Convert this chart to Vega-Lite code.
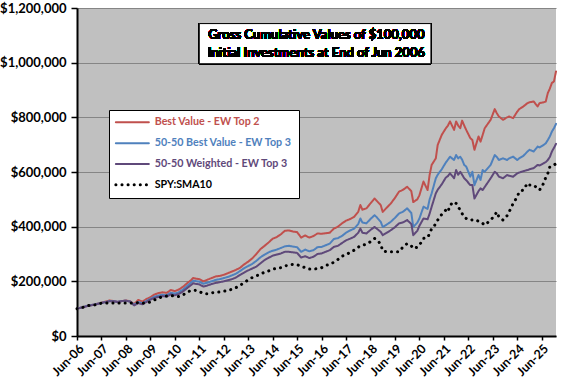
{
  "$schema": "https://vega.github.io/schema/vega-lite/v6.json",
  "width": 479,
  "height": 328,
  "autosize": {"type": "none"},
  "padding": {"left": 77, "top": 8, "right": 20, "bottom": 48},
  "background": "white",
  "config": {"view": {"fill": "#C0C0C0", "stroke": null}, "font": "Lato"},
  "data": {"values": [
    {"d":"2006-06-01","r":100000,"b":100000,"p":100000,"s":100000},
    {"d":"2006-09-01","r":106000,"b":106000,"p":105000,"s":105000},
    {"d":"2006-12-01","r":112000,"b":112000,"p":111000,"s":112000},
    {"d":"2007-03-01","r":116000,"b":116000,"p":115000,"s":114000},
    {"d":"2007-06-01","r":122000,"b":121000,"p":121000,"s":120000},
    {"d":"2007-08-01","r":126000,"b":124000,"p":124000,"s":120000},
    {"d":"2007-10-01","r":130000,"b":128000,"p":127000,"s":121000},
    {"d":"2007-12-01","r":128000,"b":127000,"p":127000,"s":121000},
    {"d":"2008-02-01","r":125000,"b":125000,"p":124000,"s":120000},
    {"d":"2008-04-01","r":128000,"b":128000,"p":128000,"s":121000},
    {"d":"2008-06-01","r":130000,"b":129000,"p":129000,"s":121000},
    {"d":"2008-08-01","r":127000,"b":126000,"p":126000,"s":121000},
    {"d":"2008-10-01","r":117000,"b":114000,"p":112000,"s":121000},
    {"d":"2008-12-01","r":132000,"b":124000,"p":120000,"s":122000},
    {"d":"2009-02-01","r":126000,"b":120000,"p":116000,"s":120000},
    {"d":"2009-04-01","r":135000,"b":128000,"p":124000,"s":121000},
    {"d":"2009-06-01","r":142000,"b":136000,"p":133000,"s":124000},
    {"d":"2009-08-01","r":152000,"b":144000,"p":139000,"s":132000},
    {"d":"2009-10-01","r":157000,"b":148000,"p":143000,"s":138000},
    {"d":"2009-12-01","r":160000,"b":151000,"p":146000,"s":145000},
    {"d":"2010-02-01","r":158000,"b":149000,"p":144000,"s":146000},
    {"d":"2010-04-01","r":168000,"b":158000,"p":152000,"s":148000},
    {"d":"2010-06-01","r":164000,"b":155000,"p":149000,"s":146000},
    {"d":"2010-08-01","r":170000,"b":160000,"p":154000,"s":144000},
    {"d":"2010-10-01","r":180000,"b":170000,"p":163000,"s":150000},
    {"d":"2010-12-01","r":193000,"b":183000,"p":175000,"s":160000},
    {"d":"2011-02-01","r":205000,"b":196000,"p":187000,"s":167000},
    {"d":"2011-03-01","r":212000,"b":202000,"p":193000,"s":167000},
    {"d":"2011-04-01","r":210000,"b":201000,"p":191000,"s":167000},
    {"d":"2011-06-01","r":208000,"b":199000,"p":189000,"s":163000},
    {"d":"2011-08-01","r":200000,"b":191000,"p":181000,"s":155000},
    {"d":"2011-10-01","r":206000,"b":195000,"p":185000,"s":155000},
    {"d":"2011-12-01","r":212000,"b":200000,"p":190000,"s":158000},
    {"d":"2012-02-01","r":218000,"b":205000,"p":194000,"s":160000},
    {"d":"2012-04-01","r":220000,"b":208000,"p":197000,"s":161000},
    {"d":"2012-06-01","r":224000,"b":212000,"p":200000,"s":164000},
    {"d":"2012-08-01","r":230000,"b":216000,"p":204000,"s":166000},
    {"d":"2012-10-01","r":236000,"b":222000,"p":208000,"s":171000},
    {"d":"2012-12-01","r":242000,"b":228000,"p":214000,"s":177000},
    {"d":"2013-02-01","r":250000,"b":238000,"p":224000,"s":185000},
    {"d":"2013-04-01","r":262000,"b":248000,"p":232000,"s":196000},
    {"d":"2013-06-01","r":272000,"b":256000,"p":240000,"s":205000},
    {"d":"2013-08-01","r":284000,"b":264000,"p":247000,"s":214000},
    {"d":"2013-10-01","r":300000,"b":275000,"p":254000,"s":220000},
    {"d":"2013-12-01","r":318000,"b":288000,"p":266000,"s":226000},
    {"d":"2014-02-01","r":330000,"b":298000,"p":278000,"s":234000},
    {"d":"2014-04-01","r":342000,"b":306000,"p":286000,"s":238000},
    {"d":"2014-06-01","r":356000,"b":312000,"p":294000,"s":244000},
    {"d":"2014-08-01","r":362000,"b":316000,"p":298000,"s":248000},
    {"d":"2014-10-01","r":372000,"b":322000,"p":302000,"s":250000},
    {"d":"2014-12-01","r":385000,"b":328000,"p":308000,"s":256000},
    {"d":"2015-02-01","r":386000,"b":330000,"p":308000,"s":260000},
    {"d":"2015-04-01","r":382000,"b":327000,"p":306000,"s":262000},
    {"d":"2015-06-01","r":380000,"b":325000,"p":304000,"s":261000},
    {"d":"2015-08-01","r":360000,"b":308000,"p":287000,"s":255000},
    {"d":"2015-10-01","r":368000,"b":316000,"p":292000,"s":250000},
    {"d":"2015-12-01","r":360000,"b":310000,"p":285000,"s":245000},
    {"d":"2016-02-01","r":366000,"b":314000,"p":290000,"s":244000},
    {"d":"2016-04-01","r":375000,"b":325000,"p":300000,"s":247000},
    {"d":"2016-06-01","r":374000,"b":326000,"p":302000,"s":250000},
    {"d":"2016-08-01","r":376000,"b":332000,"p":308000,"s":258000},
    {"d":"2016-10-01","r":378000,"b":338000,"p":314000,"s":262000},
    {"d":"2016-12-01","r":393000,"b":355000,"p":326000,"s":270000},
    {"d":"2017-02-01","r":400000,"b":358000,"p":330000,"s":280000},
    {"d":"2017-04-01","r":412000,"b":366000,"p":340000,"s":292000},
    {"d":"2017-06-01","r":422000,"b":378000,"p":350000,"s":298000},
    {"d":"2017-08-01","r":428000,"b":386000,"p":356000,"s":306000},
    {"d":"2017-10-01","r":436000,"b":393000,"p":363000,"s":314000},
    {"d":"2017-12-01","r":455000,"b":410000,"p":378000,"s":325000},
    {"d":"2018-01-01","r":479000,"b":430000,"p":393000,"s":330000},
    {"d":"2018-02-01","r":462000,"b":415000,"p":378000,"s":332000},
    {"d":"2018-04-01","r":467000,"b":412000,"p":375000,"s":336000},
    {"d":"2018-06-01","r":485000,"b":428000,"p":388000,"s":345000},
    {"d":"2018-08-01","r":503000,"b":442000,"p":399000,"s":357000},
    {"d":"2018-09-01","r":495000,"b":435000,"p":393000,"s":353000},
    {"d":"2018-11-01","r":479000,"b":418000,"p":381000,"s":336000},
    {"d":"2018-12-01","r":454000,"b":399000,"p":369000,"s":311000},
    {"d":"2019-02-01","r":470000,"b":408000,"p":378000,"s":308000},
    {"d":"2019-04-01","r":485000,"b":418000,"p":387000,"s":308000},
    {"d":"2019-06-01","r":505000,"b":432000,"p":398000,"s":308000},
    {"d":"2019-08-01","r":528000,"b":448000,"p":412000,"s":308000},
    {"d":"2019-10-01","r":535000,"b":455000,"p":416000,"s":326000},
    {"d":"2019-12-01","r":546000,"b":467000,"p":424000,"s":338000},
    {"d":"2020-02-01","r":530000,"b":450000,"p":410000,"s":330000},
    {"d":"2020-03-01","r":490000,"b":399000,"p":369000,"s":320000},
    {"d":"2020-05-01","r":500000,"b":415000,"p":385000,"s":325000},
    {"d":"2020-06-01","r":515000,"b":430000,"p":403000,"s":332000},
    {"d":"2020-08-01","r":565000,"b":473000,"p":430000,"s":357000},
    {"d":"2020-10-01","r":534000,"b":465000,"p":427000,"s":360000},
    {"d":"2020-11-01","r":590000,"b":500000,"p":448000,"s":375000},
    {"d":"2020-12-01","r":626000,"b":522000,"p":473000,"s":393000},
    {"d":"2021-02-01","r":650000,"b":577000,"p":522000,"s":410000},
    {"d":"2021-03-01","r":699000,"b":590000,"p":535000,"s":424000},
    {"d":"2021-05-01","r":736000,"b":610000,"p":555000,"s":445000},
    {"d":"2021-07-01","r":760000,"b":635000,"p":580000,"s":461000},
    {"d":"2021-08-01","r":770000,"b":645000,"p":585000,"s":454000},
    {"d":"2021-09-01","r":785000,"b":656000,"p":595000,"s":479000},
    {"d":"2021-11-01","r":754000,"b":644000,"p":577000,"s":491000},
    {"d":"2021-12-01","r":785000,"b":662000,"p":607000,"s":485000},
    {"d":"2022-01-01","r":770000,"b":650000,"p":590000,"s":473000},
    {"d":"2022-02-01","r":760000,"b":656000,"p":601000,"s":460000},
    {"d":"2022-03-01","r":788000,"b":645000,"p":590000,"s":448000},
    {"d":"2022-04-01","r":770000,"b":626000,"p":577000,"s":435000},
    {"d":"2022-05-01","r":754000,"b":620000,"p":570000,"s":430000},
    {"d":"2022-07-01","r":724000,"b":583000,"p":552000,"s":424000},
    {"d":"2022-08-01","r":717000,"b":601000,"p":552000,"s":425000},
    {"d":"2022-09-01","r":681000,"b":552000,"p":503000,"s":426000},
    {"d":"2022-11-01","r":730000,"b":589000,"p":530000,"s":420000},
    {"d":"2022-12-01","r":711000,"b":571000,"p":540000,"s":418000},
    {"d":"2023-01-01","r":735000,"b":607000,"p":534000,"s":412000},
    {"d":"2023-02-01","r":760000,"b":601000,"p":545000,"s":406000},
    {"d":"2023-05-01","r":791000,"b":626000,"p":577000,"s":424000},
    {"d":"2023-07-01","r":830000,"b":662000,"p":601000,"s":442000},
    {"d":"2023-08-01","r":815000,"b":655000,"p":595000,"s":454000},
    {"d":"2023-09-01","r":803000,"b":644000,"p":583000,"s":436000},
    {"d":"2023-11-01","r":791000,"b":650000,"p":577000,"s":424000},
    {"d":"2024-01-01","r":800000,"b":644000,"p":589000,"s":440000},
    {"d":"2024-02-01","r":803000,"b":650000,"p":586000,"s":454000},
    {"d":"2024-04-01","r":797000,"b":656000,"p":583000,"s":485000},
    {"d":"2024-06-01","r":821000,"b":644000,"p":595000,"s":509000},
    {"d":"2024-07-01","r":830000,"b":650000,"p":598000,"s":528000},
    {"d":"2024-09-01","r":840000,"b":659000,"p":603000,"s":534000},
    {"d":"2024-11-01","r":852000,"b":675000,"p":607000,"s":559000},
    {"d":"2024-12-01","r":855000,"b":681000,"p":610000,"s":552000},
    {"d":"2025-02-01","r":858000,"b":675000,"p":614000,"s":552000},
    {"d":"2025-04-01","r":840000,"b":693000,"p":626000,"s":540000},
    {"d":"2025-05-01","r":852000,"b":690000,"p":624000,"s":534000},
    {"d":"2025-07-01","r":855000,"b":699000,"p":632000,"s":559000},
    {"d":"2025-08-01","r":858000,"b":705000,"p":636000,"s":580000},
    {"d":"2025-09-01","r":889000,"b":717000,"p":644000,"s":595000},
    {"d":"2025-10-01","r":905000,"b":730000,"p":655000,"s":619000},
    {"d":"2025-11-01","r":926000,"b":748000,"p":675000,"s":622000},
    {"d":"2025-12-01","r":931000,"b":760000,"p":688000,"s":626000},
    {"d":"2026-01-01","r":968000,"b":776000,"p":703000,"s":630000}
  ]},
  "layer": [
    {
      "transform": [{"fold": ["r", "b", "p", "s"], "as": ["series", "value"]}],
      "mark": {"type": "line", "strokeCap": "round", "strokeJoin": "round"},
      "encoding": {
        "x": {
          "field": "d", "type": "temporal",
          "scale": {"type": "utc", "domain": [{"year": 2006, "month": 6, "date": 1, "utc": true}, {"year": 2026, "month": 1, "date": 1, "utc": true}]},
          "axis": {
            "title": null, "format": "%b-%y", "labelAngle": -45, "labelAlign": "right", "labelBaseline": "top",
            "labelFontWeight": "bold", "labelFontSize": 12.5, "tickCount": 40,
            "labelColor": "black", "domainColor": "black", "domainWidth": 2, "tickColor": "black", "tickSize": 4,
            "tickWidth": 1.5, "grid": false, "labelPadding": 2, "labelOverlap": false,
            "values": [
              {"year": 2006, "month": 6, "date": 1, "utc": true}, {"year": 2007, "month": 6, "date": 1, "utc": true},
              {"year": 2008, "month": 6, "date": 1, "utc": true}, {"year": 2009, "month": 6, "date": 1, "utc": true},
              {"year": 2010, "month": 6, "date": 1, "utc": true}, {"year": 2011, "month": 6, "date": 1, "utc": true},
              {"year": 2012, "month": 6, "date": 1, "utc": true}, {"year": 2013, "month": 6, "date": 1, "utc": true},
              {"year": 2014, "month": 6, "date": 1, "utc": true}, {"year": 2015, "month": 6, "date": 1, "utc": true},
              {"year": 2016, "month": 6, "date": 1, "utc": true}, {"year": 2017, "month": 6, "date": 1, "utc": true},
              {"year": 2018, "month": 6, "date": 1, "utc": true}, {"year": 2019, "month": 6, "date": 1, "utc": true},
              {"year": 2020, "month": 6, "date": 1, "utc": true}, {"year": 2021, "month": 6, "date": 1, "utc": true},
              {"year": 2022, "month": 6, "date": 1, "utc": true}, {"year": 2023, "month": 6, "date": 1, "utc": true},
              {"year": 2024, "month": 6, "date": 1, "utc": true}, {"year": 2025, "month": 6, "date": 1, "utc": true}
            ]
          }
        },
        "y": {
          "field": "value", "type": "quantitative",
          "scale": {"domain": [0, 1200000], "nice": false},
          "axis": {
            "title": null, "values": [0, 200000, 400000, 600000, 800000, 1000000, 1200000], "format": "$,.0f",
            "labelFontWeight": "bold", "labelFontSize": 13, "labelColor": "black", "domainColor": "black",
            "domainWidth": 2, "tickColor": "black", "tickSize": 6, "tickWidth": 1.5, "grid": true,
            "gridColor": "#858585", "gridWidth": 1, "labelPadding": 5
          }
        },
        "color": {
          "field": "series", "type": "nominal",
          "scale": {"domain": ["r", "b", "p", "s"], "range": ["#C0504D", "#4F81BD", "#5F497A", "#000000"]},
          "legend": {
            "orient": "none", "legendX": 32, "legendY": 102, "title": null,
            "fillColor": "white", "strokeColor": "black", "padding": 7,
            "symbolType": "M-1,0L5,0", "symbolSize": 121, "symbolStrokeWidth": 2,
            "labelFontSize": 10.7, "labelFontWeight": "bold", "labelOffset": 28, "labelLimit": 300, "rowPadding": 8.8,
            "labelExpr": "datum.value == 'r' ? 'Best Value - EW Top 2' : datum.value == 'b' ? '50-50 Best Value - EW Top 3' : datum.value == 'p' ? '50-50 Weighted - EW Top 3' : 'SPY:SMA10'",
            "encode": {
              "labels": {"update": {"fill": {"scale": "color", "field": "value"}}},
              "symbols": {"update": {"strokeWidth": {"signal": "datum.value == 's' ? 3 : 2"}, "strokeCap": {"value": "round"}}}
            }
          }
        },
        "strokeDash": {
          "field": "series", "type": "nominal",
          "scale": {"domain": ["r", "b", "p", "s"], "range": [[1, 0], [1, 0], [1, 0], [0.1, 6]]},
          "legend": {
            "orient": "none", "legendX": 32, "legendY": 102, "title": null,
            "fillColor": "white", "strokeColor": "black", "padding": 7,
            "symbolType": "M-1,0L5,0", "symbolSize": 121, "symbolStrokeWidth": 2,
            "labelFontSize": 10.7, "labelFontWeight": "bold", "labelOffset": 28, "labelLimit": 300, "rowPadding": 8.8,
            "labelExpr": "datum.value == 'r' ? 'Best Value - EW Top 2' : datum.value == 'b' ? '50-50 Best Value - EW Top 3' : datum.value == 'p' ? '50-50 Weighted - EW Top 3' : 'SPY:SMA10'",
            "encode": {
              "labels": {"update": {"fill": {"scale": "color", "field": "value"}}},
              "symbols": {"update": {"strokeWidth": {"signal": "datum.value == 's' ? 3 : 2"}, "strokeCap": {"value": "round"}}}
            }
          }
        },
        "strokeWidth": {"condition": {"test": "datum.series == 's'", "value": 3}, "value": 2}
      }
    },
    {
      "mark": {"type": "rect", "fill": "white", "stroke": "black", "strokeWidth": 1},
      "encoding": {
        "x": {"datum": {"year": 2011, "month": 6, "date": 1, "utc": true}, "type": "temporal"},
        "x2": {"datum": {"year": 2020, "month": 11, "date": 20, "utc": true}},
        "y": {"datum": 996000, "type": "quantitative"},
        "y2": {"datum": 1143000}
      }
    },
    {
      "mark": {"type": "text", "text": ["Gross Cumulative Values of $100,000", "Initial Investments at End of Jun 2006"], "fontWeight": "bold", "fontSize": 13, "lineHeight": 18, "align": "center", "baseline": "middle", "color": "black"},
      "encoding": {
        "x": {"datum": {"year": 2016, "month": 3, "date": 15, "utc": true}, "type": "temporal"},
        "y": {"datum": 1102000, "type": "quantitative"}
      }
    }
  ]
}
